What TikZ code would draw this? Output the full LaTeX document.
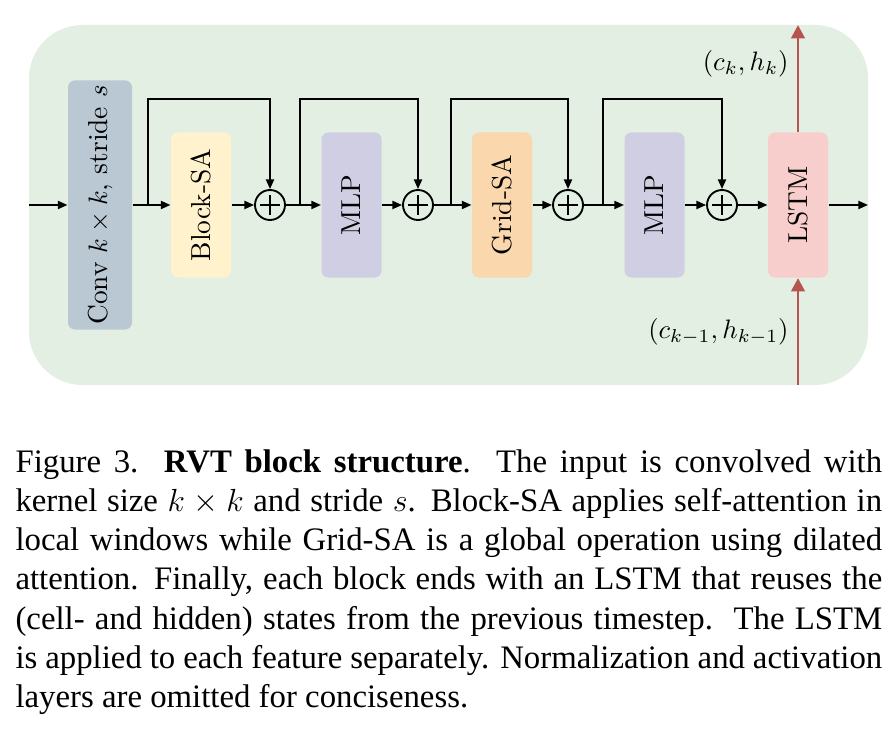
\documentclass[tikz,border=0pt]{standalone}
\usepackage{fontspec}
\newfontfamily\capfont{Liberation Serif}
\usetikzlibrary{arrows.meta}
\definecolor{bggreen}{HTML}{E3EFE2}
\definecolor{convblue}{HTML}{BAC8D3}
\definecolor{bsayellow}{HTML}{FFF2CC}
\definecolor{mlppurple}{HTML}{D0CEE2}
\definecolor{gsaorange}{HTML}{FAD7AC}
\definecolor{lstmpink}{HTML}{F8CECC}
\definecolor{statered}{HTML}{B85450}
\begin{document}
\begin{tikzpicture}[x=0.375pt,y=-0.375pt,
    font=\fontsize{10.3pt}{12pt}\selectfont,
    box/.style={rounded corners=2.6pt, rotate=90, inner sep=0pt,
      minimum width=54.4pt, minimum height=22.5pt},
    add/.style={circle, draw, line width=0.7pt, minimum size=11.25pt, inner sep=0pt,
      path picture={
        \draw[line width=0.7pt] ([xshift=-3.6pt]path picture bounding box.center)
          -- ([xshift=3.6pt]path picture bounding box.center);
        \draw[line width=0.7pt] ([yshift=-3.6pt]path picture bounding box.center)
          -- ([yshift=3.6pt]path picture bounding box.center);}},
    arr/.style={-{Triangle[length=3.6pt,width=3pt]}, line width=0.7pt},
    statearr/.style={-{Triangle[length=5pt,width=5pt]}, line width=1.1pt, statered}]
  \useasboundingbox (0,0) rectangle (896,732);
  \fill[bggreen, rounded corners=20pt] (29,25) rectangle (868,385);
  \draw
    (100,205) node[box, fill=convblue, minimum width=93.4pt, minimum height=24pt] (conv) {Conv $k\times k$,\ stride $s$}
    (201,205) node[box, fill=bsayellow] (bsa) {Block-SA}
    (270,205) node[add] (add1) {}
    (351.5,205) node[box, fill=mlppurple] (mlpa) {MLP}
    (418,205) node[add] (add2) {}
    (502,205) node[box, fill=gsaorange] (gsa) {Grid-SA}
    (568,205) node[add] (add3) {}
    (654.5,205) node[box, fill=mlppurple] (mlpb) {MLP}
    (722,205) node[add] (add4) {}
    (798,205) node[box, fill=lstmpink] (lstm) {LSTM};
  \node[anchor=east] (ck) at (798,64) {$(c_k, h_k)$};
  \node[anchor=east] (ckprev) at (798,332) {$(c_{k-1}, h_{k-1})$};
  \coordinate (in) at (29,205);
  \coordinate (out) at (868,205);
  \coordinate (s1) at (148,205);
  \coordinate (t1) at (148,99);
  \coordinate (s2) at (300,205);
  \coordinate (t2) at (300,99);
  \coordinate (s3) at (451,205);
  \coordinate (t3) at (451,99);
  \coordinate (s4) at (603,205);
  \coordinate (t4) at (603,99);
  \coordinate (ctop) at (798,25);
  \coordinate (cbot) at (798,385);
  \begin{scope}[arr]
    \draw (in) to (conv);
    \draw (conv) to (bsa);
    \draw (bsa) to (add1);
    \draw (add1) to (mlpa);
    \draw (mlpa) to (add2);
    \draw (add2) to (gsa);
    \draw (gsa) to (add3);
    \draw (add3) to (mlpb);
    \draw (mlpb) to (add4);
    \draw (add4) to (lstm);
    \draw (lstm) to (out);
    \draw (s1) -- (t1) -| (add1);
    \draw (s2) -- (t2) -| (add2);
    \draw (s3) -- (t3) -| (add3);
    \draw (s4) -- (t4) -| (add4);
  \end{scope}
  \draw[statearr] (lstm) to (ctop);
  \draw[statearr] (cbot) to (lstm);
  \node[anchor=north west, inner sep=0pt, text width=325pt, align=justify,
    font=\capfont\fontsize{12.3pt}{14.7pt}\selectfont] (caption) at (15,449)
    {Figure 3.\ \ \textbf{RVT block structure}.\ \ The input is convolved with\linebreak
    kernel size $k \times k$ and stride $s$. Block-SA applies self-attention in\linebreak
    local windows while Grid-SA is a global operation using dilated\linebreak
    attention. Finally, each block ends with an LSTM that reuses the\linebreak
    (cell- and hidden) states from the previous timestep.\ \ The LSTM\linebreak
    is applied to each feature separately. Normalization and activation\linebreak
    layers are omitted for conciseness.};
\end{tikzpicture}
\end{document}
